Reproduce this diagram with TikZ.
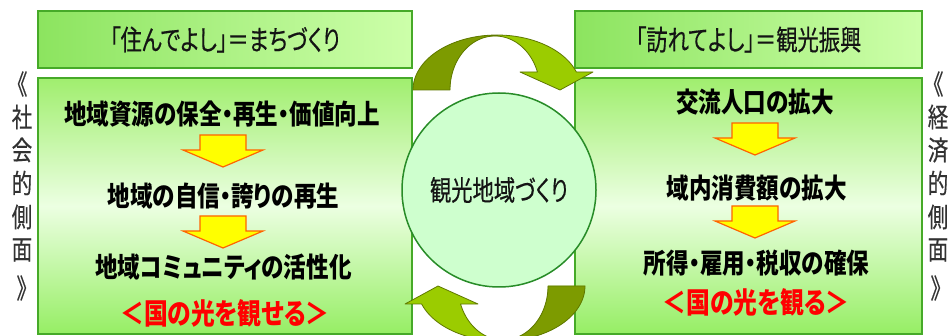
\documentclass[tikz,border=0pt]{standalone}
\usepackage{fontspec}
\newfontfamily\jp{Noto Sans CJK JP}[FakeStretch=0.82,RawFeature=+palt]
\newfontfamily\jpt{Noto Sans CJK JP}[FakeStretch=0.76,FakeBold=0.4,RawFeature=+palt]
\definecolor{bordergreen}{RGB}{70,170,40}
\definecolor{topL}{RGB}{140,228,95}
\definecolor{topR}{RGB}{205,255,170}
\definecolor{mainTop}{RGB}{160,238,110}
\definecolor{mainMid}{RGB}{236,255,226}
\definecolor{mainBot}{RGB}{150,238,100}
\definecolor{circfill}{RGB}{206,255,206}
\definecolor{circline}{RGB}{40,140,40}
\definecolor{arrdark}{RGB}{125,155,0}
\definecolor{arrlight}{RGB}{155,204,0}
\definecolor{arrline}{RGB}{95,120,0}
\definecolor{yarrfill}{RGB}{255,255,0}
\definecolor{yarrline}{RGB}{255,100,0}
\definecolor{txtdark}{RGB}{20,20,20}
\definecolor{sidegray}{RGB}{50,50,50}
\def\APATH{plot[domain=180:19.1,samples=60] ({497+84*cos(\x)},{90-55*sin(\x)}) -- (593,72) -- (560,90) -- (520,72) -- plot[domain=19.5:180,samples=60] ({495+45*cos(\x)},{90-54*sin(\x)}) -- cycle}
\newcommand\curvarrow{%
  \fill[arrlight] \APATH;
  \begin{scope}\clip (380,0) rectangle (497,100); \fill[arrdark] \APATH; \end{scope}
  \draw[arrline, line width=0.8pt, line join=round] \APATH;
}
\newcommand\downarr[2]{%
  \filldraw[fill=yarrfill, draw=yarrline, line width=1.2pt, line join=miter]
    ({#1-23},#2) -- ({#1+23},#2) -- ({#1+23},{#2+15}) -- ({#1+40},{#2+15}) -- (#1,{#2+32}) -- ({#1-40},{#2+15}) -- ({#1-23},{#2+15}) -- cycle;
}
\tikzset{
  topbox/.style={draw=bordergreen, line width=1.5pt, left color=topL, right color=topR, minimum height=57pt, inner sep=0pt, text=txtdark, font=\jpt\fontsize{28}{30}\selectfont},
  mainbox/.style={draw=bordergreen, line width=1.5pt, top color=mainTop, bottom color=mainBot, middle color=mainMid, minimum height=256pt, inner sep=0pt},
  itemtext/.style={inner sep=0pt, text=black, font=\jp\bfseries\fontsize{27.5}{30}\selectfont},
  redtext/.style={inner sep=0pt, text=red, font=\jp\bfseries\fontsize{29}{32}\selectfont},
  sidechar/.style={inner sep=0pt, text=sidegray, font=\jpt\fontsize{27}{28}\selectfont},
  hub/.style={circle, draw=circline, line width=1.5pt, fill=circfill, minimum size=194pt, inner sep=0pt, text=txtdark, font=\jpt\fontsize{28}{30}\selectfont}
}
\begin{document}
\begin{tikzpicture}[x=1pt,y=-1pt]
\useasboundingbox[fill=white] (0,0) rectangle (952,336);
% boxes
\node[topbox, minimum width=374pt] (lt) at (225,39.5) {「住んでよし」＝まちづくり};
\node[topbox, minimum width=347pt] (rt) at (748.5,39.5) {「訪れてよし」＝観光振興};
\node[mainbox, minimum width=374pt] (lm) at (225,206) {};
\node[mainbox, minimum width=347pt] (rm) at (748.5,206) {};
% left contents
\node[itemtext] (l1) at (222,114) {地域資源の保全・再生・価値向上};
\node[itemtext] (l2) at (223.5,196) {地域の自信・誇りの再生};
\node[itemtext] (l3) at (223.5,267) {地域コミュニティの活性化};
\node[redtext] (l4) at (225,313) {＜国の光を観せる＞};
\downarr{223}{135}
\downarr{223}{216}
% right contents
\node[itemtext] (r1) at (755,102) {交流人口の拡大};
\node[itemtext] (r2) at (756.5,188) {域内消費額の拡大};
\node[itemtext] (r3) at (756.5,263) {所得・雇用・税収の確保};
\node[redtext] (r4) at (756,302) {＜国の光を観る＞};
\downarr{755}{123}
\downarr{755}{206}
% hub
\node[hub] (hub) at (499,190) {観光地域づくり};
% curved arrows
\curvarrow
\begin{scope}[rotate around={180:(499,188)}]
\curvarrow
\end{scope}
% side labels
\foreach \c/\yy [count=\i] in {《/84,社/117,会/150,的/183,側/217,面/250,》/288}{
  \node[sidechar] (sl\i) at (22,\yy) {\c};
}
\foreach \c/\yy [count=\i] in {《/84,経/117,済/150,的/183,側/217,面/250}{
  \node[sidechar] (sr\i) at (938,\yy) {\c};
}
\node[sidechar] (sr7) at (936,288) {》};
\end{tikzpicture}
\end{document}
